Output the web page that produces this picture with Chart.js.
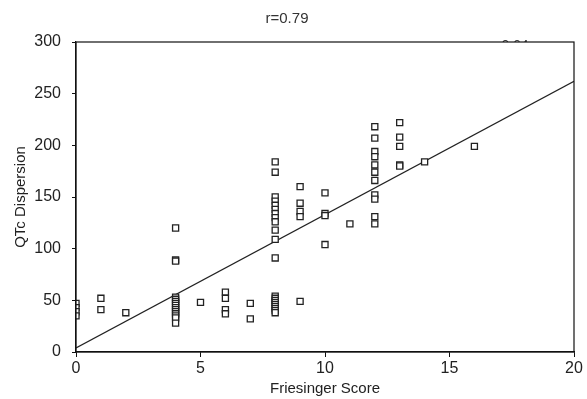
<html>
<head>
    <title>QTc Dispersion vs Friesinger Score</title>
    <meta charset="utf-8">
    <script src="https://cdn.jsdelivr.net/npm/chart.js@4.4.1/dist/chart.umd.min.js"></script>
    <style>
        html, body { margin: 0; padding: 0; background: #fff; }
        #wrap { width: 587px; height: 399px; }
    </style>
</head>
<body>
    <div id="wrap"><canvas id="chart"></canvas></div>
    <script>
        // Friesinger score columns and the QTc dispersion values read at each
        const scores = [0, 1, 2, 4, 5, 6, 7, 8, 9, 10, 11, 12, 13, 14, 16];
        const dispersion = [
            [47, 43, 39, 35],
            [52, 41],
            [38],
            [120, 89, 88, 53, 51, 49, 47, 45, 43, 41, 39, 37, 35, 33, 28],
            [48],
            [58, 52, 41, 37],
            [47, 32],
            [184, 174, 150, 146, 142, 138, 134, 130, 126, 118, 109, 91, 54, 52, 50, 48, 46, 44, 42, 40, 38],
            [160, 144, 136, 131, 49],
            [154, 134, 132, 104],
            [124],
            [218, 207, 194, 189, 181, 174, 166, 152, 148, 131, 124],
            [222, 208, 199, 181, 180],
            [184],
            [199]
        ];
        // regression line ends
        const fitX = [0, 20];
        const fitY = [4, 262];
        const xTicks = [0, 5, 10, 15, 20];
        const yTicks = [0, 50, 100, 150, 200, 250, 300];

        const points = [];
        for (let i = 0; i < scores.length; i++) {
            for (const v of dispersion[i]) {
                points.push({ x: scores[i], y: v });
            }
        }
        const linePts = fitX.map((x, i) => ({ x: x, y: fitY[i] }));

        const frame = {
            id: 'frame',
            beforeDraw(chart) {
                const ctx = chart.ctx;
                const a = chart.chartArea;
                ctx.save();
                // half-hidden label behind the plot box
                ctx.fillStyle = '#333';
                ctx.font = '14px "Liberation Sans", Arial, sans-serif';
                ctx.textAlign = 'center';
                ctx.textBaseline = 'alphabetic';
                ctx.fillText('0.64', a.right - 59, a.top + 8);
                ctx.fillStyle = '#fff';
                ctx.fillRect(a.left, a.top, a.right - a.left, a.bottom - a.top);
                ctx.restore();
            },
            afterDraw(chart) {
                const ctx = chart.ctx;
                const a = chart.chartArea;
                ctx.save();
                ctx.strokeStyle = '#111';
                ctx.lineWidth = 1.2;
                ctx.strokeRect(a.left, a.top, a.right - a.left, a.bottom - a.top);
                ctx.restore();
            }
        };

        const font = { family: '"Liberation Sans", Arial, sans-serif' };

        new Chart(document.getElementById('chart'), {
            type: 'scatter',
            data: {
                datasets: [
                    {
                        data: points,
                        pointStyle: 'rect',
                        pointRadius: 4.3,
                        pointBorderWidth: 1.3,
                        pointBorderColor: '#222',
                        pointBackgroundColor: '#fff'
                    },
                    {
                        type: 'line',
                        data: linePts,
                        borderColor: '#222',
                        borderWidth: 1.2,
                        pointRadius: 0,
                        fill: false
                    }
                ]
            },
            options: {
                responsive: true,
                maintainAspectRatio: false,
                animation: false,
                layout: { padding: { left: 0, right: 13, top: 0, bottom: 0 } },
                plugins: {
                    legend: { display: false },
                    tooltip: { enabled: false },
                    title: {
                        display: true,
                        text: 'r=0.79',
                        color: '#333',
                        font: { ...font, size: 15, weight: 'normal' },
                        padding: { top: 10, bottom: 14 }
                    }
                },
                scales: {
                    x: {
                        type: 'linear',
                        min: 0, max: 20,
                        afterBuildTicks(s) { s.ticks = xTicks.map(v => ({ value: v })); },
                        afterFit(s) { s.height = 47; },
                        border: { display: true, color: '#111', width: 1.2 },
                        grid: { drawOnChartArea: false, drawTicks: true, tickLength: 5, color: '#111' },
                        ticks: { color: '#222', font: { ...font, size: 16 }, padding: 2, maxRotation: 0 },
                        title: {
                            display: true, text: 'Friesinger Score', color: '#222',
                            font: { ...font, size: 15 }, padding: { top: 0, bottom: 1 }
                        }
                    },
                    y: {
                        type: 'linear',
                        min: 0, max: 300,
                        afterBuildTicks(s) { s.ticks = yTicks.map(v => ({ value: v })); },
                        afterFit(s) { s.width = 76; },
                        border: { display: true, color: '#111', width: 1.2 },
                        grid: { drawOnChartArea: false, drawTicks: true, tickLength: 4, color: '#111' },
                        ticks: { color: '#222', font: { ...font, size: 16 }, padding: 11 },
                        title: {
                            display: true, text: 'QTc Dispersion', color: '#222',
                            font: { ...font, size: 15 }, padding: { top: 12, bottom: 0 }
                        }
                    }
                }
            },
            plugins: [frame]
        });
    </script>
</body>
</html>
